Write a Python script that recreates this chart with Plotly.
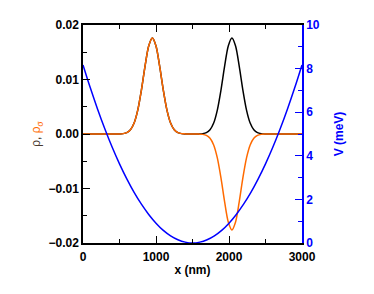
import plotly.graph_objects as go

# x grid (nm) for density traces
x_rho = [0, 500, 550, 600, 650, 700, 750, 800, 850, 900, 950, 1000, 1050, 1100, 1150,
         1200, 1250, 1300, 1350, 1400, 1590, 1640, 1690, 1740, 1790, 1840, 1890, 1940, 1990,
         2040, 2090, 2140, 2190, 2240, 2290, 2340, 2390, 2440, 2490, 3000]
# total density rho (black)
rho = [0, 0.00002, 0.00007, 0.00025, 0.00077, 0.00201, 0.00439, 0.00806, 0.01244, 0.01614, 0.0176,
       0.01614, 0.01244, 0.00806, 0.00439, 0.00201, 0.00077, 0.00025, 0.00007, 0.00002,
       0.00002, 0.00007, 0.00025, 0.00077, 0.00201, 0.00439, 0.00806, 0.01244, 0.01614, 0.0176,
       0.01614, 0.01244, 0.00806, 0.00439, 0.00201, 0.00077, 0.00025, 0.00007, 0.00002, 0]
# spin density rho_sigma (orange)
rho_sigma = [0, 0.00002, 0.00007, 0.00025, 0.00077, 0.00201, 0.00439, 0.00806, 0.01244, 0.01614, 0.0176,
             0.01614, 0.01244, 0.00806, 0.00439, 0.00201, 0.00077, 0.00025, 0.00007, 0.00002,
             -0.00002, -0.00007, -0.00025, -0.00077, -0.00201, -0.00439, -0.00806, -0.01244, -0.01614, -0.0176,
             -0.01614, -0.01244, -0.00806, -0.00439, -0.00201, -0.00077, -0.00025, -0.00007, -0.00002, 0]

# potential V (meV)
x_v = [0, 100, 200, 300, 400, 500, 600, 700, 800, 900, 1000, 1100, 1200, 1300, 1400, 1500,
       1600, 1700, 1800, 1900, 2000, 2100, 2200, 2300, 2400, 2500, 2600, 2700, 2800, 2900, 3000]
v = [8.17, 7.12, 6.14, 5.23, 4.39, 3.63, 2.94, 2.32, 1.78, 1.31, 0.91, 0.58, 0.33, 0.15, 0.04, 0,
     0.04, 0.15, 0.33, 0.58, 0.91, 1.31, 1.78, 2.32, 2.94, 3.63, 4.39, 5.23, 6.14, 7.12, 8.17]

ORANGE = "#FF6A00"
BLUE = "#0000FF"
FONT = "Liberation Sans, Arial, sans-serif"

fig = go.Figure()
fig.add_trace(go.Scatter(x=x_v, y=v, mode="lines", yaxis="y2",
                         line=dict(color=BLUE, width=1.5, shape="spline", smoothing=1)))
fig.add_trace(go.Scatter(x=x_rho, y=rho, mode="lines",
                         line=dict(color="black", width=1.5, shape="spline", smoothing=0.8)))
fig.add_trace(go.Scatter(x=x_rho, y=rho_sigma, mode="lines",
                         line=dict(color=ORANGE, width=1.5, shape="spline", smoothing=0.8)))

fig.update_layout(
    width=366, height=286,
    margin=dict(l=75, r=72, t=17, b=51, autoexpand=False),
    paper_bgcolor="white", plot_bgcolor="white",
    showlegend=False,
    font=dict(family=FONT),
    xaxis=dict(
        range=[0, 3000], dtick=1000, tick0=0, automargin=False,
        showline=True, linecolor="black", linewidth=1.5, mirror="ticks",
        ticks="inside", ticklen=7, tickwidth=1.2, tickcolor="black",
        minor=dict(dtick=500, ticks="inside", ticklen=4, tickwidth=1.2, tickcolor="black"),
        showgrid=False, zeroline=False,
        tickfont=dict(family=FONT, size=12, color="black"),
        tickprefix="<b>", ticksuffix="</b>", ticklabelstandoff=2,
        title=dict(text="<b>x (nm)</b>", font=dict(size=12, color="black"), standoff=2),
    ),
    yaxis=dict(
        range=[-0.02, 0.02], dtick=0.01, tickformat=".2f", automargin=False,
        showline=True, linecolor="black", linewidth=1.5,
        ticks="inside", ticklen=7, tickwidth=1.2, tickcolor="black",
        minor=dict(dtick=0.005, ticks="inside", ticklen=4, tickwidth=1.2, tickcolor="black"),
        showgrid=False, zeroline=False,
        tickfont=dict(family=FONT, size=12, color="black"),
        tickprefix="<b>", ticksuffix="</b>",
        title=dict(text="<span style='color:#4a3a30'>ρ, </span><span style='color:%s'>ρ<sub>σ</sub></span>" % ORANGE,
                   font=dict(size=12), standoff=5),
    ),
    yaxis2=dict(
        overlaying="y", side="right", anchor="x", automargin=False,
        range=[0, 10], dtick=2,
        showline=True, linecolor=BLUE, linewidth=1.5,
        ticks="inside", ticklen=7, tickwidth=1.2, tickcolor=BLUE,
        minor=dict(dtick=1, ticks="inside", ticklen=4, tickwidth=1.2, tickcolor=BLUE),
        showgrid=False, zeroline=False,
        tickfont=dict(family=FONT, size=12, color=BLUE),
        tickprefix="<b>", ticksuffix="</b>",
        title=dict(text="<b>V (meV)</b>", font=dict(size=12, color=BLUE), standoff=16),
    ),
)

fig.write_html("out.html")
